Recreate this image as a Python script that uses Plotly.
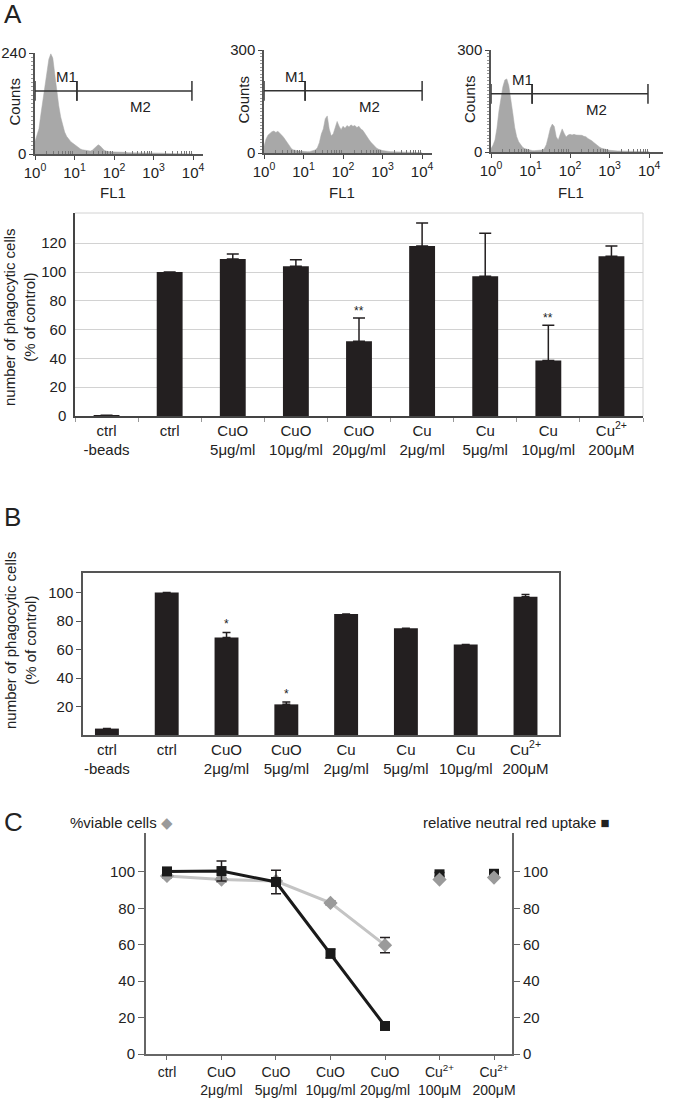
import math
import plotly.graph_objects as go

W, H = 676, 1098
FONT = "Liberation Sans, Arial, sans-serif"
INK = "#231f20"

# ---- flow cytometry histograms (FL1 in log10 units) ----
fl1_bins = [0.00, 0.05, 0.10, 0.15, 0.20, 0.25, 0.30, 0.35, 0.40, 0.45,
            0.50, 0.55, 0.60, 0.65, 0.70, 0.75, 0.80, 0.85, 0.90, 0.95,
            1.00, 1.05, 1.10, 1.15, 1.20, 1.25, 1.30, 1.35, 1.40, 1.45,
            1.50, 1.55, 1.60, 1.65, 1.70, 1.75, 1.80, 1.85, 1.90, 1.95,
            2.00, 2.05, 2.10, 2.15, 2.20, 2.25, 2.30, 2.35, 2.40, 2.45,
            2.50, 2.55, 2.60, 2.65, 2.70, 2.75, 2.80, 2.85, 2.90, 2.95,
            3.00, 3.20, 3.40, 3.60, 3.80, 4.00]
hist1_counts = [30, 45, 60, 95, 130, 165, 200, 225, 238, 228,
                190, 150, 115, 88, 66, 52, 42, 35, 30, 26,
                22, 18, 15, 12, 10, 9, 8, 7, 7, 9,
                13, 18, 22, 19, 13, 9, 7, 6, 6, 5,
                5, 5, 4, 4, 4, 4, 4, 3, 3, 3,
                3, 3, 3, 3, 3, 2, 2, 2, 2, 2,
                2, 2, 1, 1, 1, 0]
hist2_counts = [20, 40, 52, 58, 62, 64, 60, 63, 58, 52,
                45, 36, 26, 18, 12, 9, 7, 6, 5, 5,
                4, 4, 4, 4, 5, 6, 9, 15, 30, 55,
                70, 100, 108, 70, 50, 55, 75, 92, 78, 68,
                78, 72, 80, 76, 82, 78, 80, 74, 78, 70,
                66, 56, 48, 40, 32, 25, 19, 14, 11, 8,
                7, 4, 3, 2, 2, 1]
hist3_counts = [10, 20, 35, 70, 120, 160, 192, 212, 215, 195,
                160, 115, 72, 45, 30, 20, 14, 10, 8, 6,
                5, 4, 4, 4, 4, 5, 6, 10, 22, 45,
                70, 82, 75, 45, 35, 52, 68, 55, 44, 50,
                52, 50, 52, 50, 50, 48, 49, 46, 45, 40,
                37, 33, 28, 23, 18, 14, 11, 9, 7, 6,
                5, 3, 2, 2, 1, 1]
hist_ymax = [240, 300, 300]
gate_level = [150, 181, 171]
gate_m1 = [(0.0, 1.06), (0.0, 1.04), (0.0, 1.04)]
gate_m2 = [(1.06, 3.97), (1.04, 4.0), (1.04, 3.97)]

# ---- panel A ----
a_cats = ["ctrl<br>-beads", "ctrl", "CuO<br>5μg/ml", "CuO<br>10μg/ml", "CuO<br>20μg/ml",
          "Cu<br>2μg/ml", "Cu<br>5μg/ml", "Cu<br>10μg/ml", "Cu<sup>2+</sup><br>200μM"]
a_vals = [0.5, 100, 109, 104, 52, 118, 97, 38.5, 111]
a_err = [None, None, 3.5, 4.5, 16, 16, 30, 24.5, 7]
a_stars = ["", "", "", "", "**", "", "", "**", ""]

# ---- panel B ----
b_cats = ["ctrl<br>-beads", "ctrl", "CuO<br>2μg/ml", "CuO<br>5μg/ml",
          "Cu<br>2μg/ml", "Cu<br>5μg/ml", "Cu<br>10μg/ml", "Cu<sup>2+</sup><br>200μM"]
b_vals = [4.5, 100, 68.5, 21.5, 85, 75, 63.5, 97]
b_err = [None, None, 3.5, 1.6, None, None, None, 1.6]
b_stars = ["", "", "*", "*", "", "", "", ""]

# ---- panel C ----
c_cats = ["ctrl", "CuO<br>2μg/ml", "CuO<br>5μg/ml", "CuO<br>10μg/ml", "CuO<br>20μg/ml",
          "Cu<sup>2+</sup><br>100μM", "Cu<sup>2+</sup><br>200μM"]
c_uptake = [100.3, 100.5, 94.5, 55.2, 15.4, 98.7, 99.0]
c_uptake_err = [1.0, 5.5, 6.5, 2.5, 2.0, 1.0, 1.0]
c_viable = [97.8, 95.8, 95.0, 83.0, 59.8, 95.8, 96.9]
c_viable_err = [1.0, 1.2, 1.0, 1.0, 4.2, 1.0, 1.0]


def px(x):
    return x / W


def py(y):
    return 1 - y / H


fig = go.Figure()
font = dict(family=FONT, size=15, color="#222")
annotations = []


def note(x, y, text, **kw):
    d = dict(x=px(x), y=py(y), xref="paper", yref="paper", text=text, showarrow=False,
             xanchor="center", yanchor="middle", font=font)
    d.update(kw)
    annotations.append(d)


# histograms
hist_boxes = [(35, 203, 154, 53, 4.25), (264, 432, 153, 50, 4.25), (491, 663, 152, 50, 4.35)]
minor_log = [d + math.log10(k) for d in range(4) for k in range(2, 10)]
for i, counts in enumerate([hist1_counts, hist2_counts, hist3_counts]):
    n = "" if i == 0 else str(i + 1)
    xa, ya = "x" + n, "y" + n
    x0, x1, yb, yt, xr = hist_boxes[i]
    fig.add_trace(go.Scatter(x=fl1_bins, y=counts, xaxis=xa, yaxis=ya, mode="lines",
                             fill="tozeroy", fillcolor="#a8a8a8",
                             line=dict(color="#a8a8a8", width=0.5)))
    lvl = gate_level[i]
    for seg in (gate_m1[i], gate_m2[i]):
        fig.add_trace(go.Scatter(x=list(seg), y=[lvl, lvl], xaxis=xa, yaxis=ya,
                                 mode="lines+markers",
                                 line=dict(color="#333", width=1.5),
                                 marker=dict(symbol="line-ns", size=14,
                                             line=dict(color="#333", width=1.5))))
    fig.update_layout(**{
        ("xaxis" + n): dict(domain=[px(x0), px(x1)], anchor=ya, range=[0, xr],
                            tickvals=[0, 1, 2, 3, 4],
                            ticktext=["10<sup>0</sup>", "10<sup>1</sup>", "10<sup>2</sup>",
                                      "10<sup>3</sup>", "10<sup>4</sup>"],
                            ticks="outside", ticklen=4, showgrid=False, zeroline=False,
                            showline=True, linecolor="#555", linewidth=1.5,
                            tickfont=font, tickangle=0, automargin=False,
                            minor=dict(tickvals=minor_log, ticks="inside", ticklen=3,
                                       tickcolor="#777")),
        ("yaxis" + n): dict(domain=[py(yb), py(yt)], anchor=xa, range=[0, hist_ymax[i]],
                            tickvals=[0, hist_ymax[i]], ticks="outside", ticklen=4,
                            showgrid=False, zeroline=False, showline=True,
                            linecolor="#555", linewidth=1.5, tickfont=font,
                            automargin=False,
                            minor=dict(dtick=10, ticks="outside", ticklen=2,
                                       tickcolor="#999")),
    })
    annotations.append(dict(x=0.8, y=lvl, xref=xa, yref=ya, text="M1", showarrow=False,
                            yshift=14, font=font))
    annotations.append(dict(x=2.68, y=lvl, xref=xa, yref=ya, text="M2", showarrow=False,
                            yshift=-16, font=font))
    note(x0 - 21, (yb + yt) / 2 - 2, "Counts", textangle=-90)
    note((x0 + x1) / 2 - 6, 193, "FL1")

# panel A bar chart
fig.add_trace(go.Bar(x=a_cats, y=a_vals, xaxis="x4", yaxis="y4", width=0.41,
                     marker=dict(color=INK, line=dict(width=0)),
                     error_y=dict(type="data", symmetric=False, array=a_err,
                                  arrayminus=[0] * len(a_err), color=INK,
                                  thickness=1.5, width=6)))
for i, s in enumerate(a_stars):
    if s:
        annotations.append(dict(x=i, y=a_vals[i] + a_err[i], xref="x4", yref="y4", text=s,
                                showarrow=False, yanchor="bottom", yshift=-2,
                                font=dict(family=FONT, size=12, color="#222")))
fig.update_layout(
    xaxis4=dict(domain=[px(75), px(643)], anchor="y4", type="category", range=[-0.5, 8.5],
                showline=True, linecolor="#444", linewidth=1.5, ticks="outside",
                tickson="boundaries", ticklen=4, tickcolor="#999", tickfont=font,
                tickangle=0, automargin=False),
    yaxis4=dict(domain=[py(416), py(213)], anchor="x4", range=[0, 141],
                tickvals=[0, 20, 40, 60, 80, 100, 120],
                showline=True, linecolor="#444", linewidth=1.5, showgrid=True,
                gridcolor="#d2d2d2", gridwidth=1, zeroline=False, tickfont=font,
                ticklabelstandoff=4, automargin=False),
)
fig.add_shape(type="line", xref="x4 domain", yref="y4 domain", x0=0, x1=1, y0=1, y1=1,
              line=dict(color="#d2d2d2", width=1))
fig.add_shape(type="line", xref="x4 domain", yref="y4 domain", x0=1, x1=1, y0=0, y1=1,
              line=dict(color="#d2d2d2", width=1))

# panel B bar chart
fig.add_trace(go.Bar(x=b_cats, y=b_vals, xaxis="x5", yaxis="y5", width=0.4,
                     marker=dict(color=INK, line=dict(width=0)),
                     error_y=dict(type="data", symmetric=False, array=b_err,
                                  arrayminus=[0] * len(b_err), color=INK,
                                  thickness=1.5, width=4)))
for i, s in enumerate(b_stars):
    if s:
        annotations.append(dict(x=i, y=b_vals[i] + b_err[i], xref="x5", yref="y5", text=s,
                                showarrow=False, yanchor="bottom", yshift=-1,
                                font=dict(family=FONT, size=12, color="#222")))
fig.update_layout(
    xaxis5=dict(domain=[px(83), px(559)], anchor="y5", type="category", range=[-0.4, 7.56],
                showline=True, linecolor="#555", linewidth=1.5, mirror=True, ticks="",
                tickfont=font, tickangle=0, automargin=False),
    yaxis5=dict(domain=[py(735), py(573)], anchor="x5", range=[0, 113.7],
                tickvals=[20, 40, 60, 80, 100], showline=True, linecolor="#555",
                linewidth=1.5, mirror=True, ticks="outside", ticklen=5, tickcolor="#555",
                showgrid=False, zeroline=False, tickfont=font, automargin=False),
)

# panel C line chart
err_style = dict(type="data", color=INK, thickness=1.5, width=5)
fig.add_trace(go.Scatter(x=c_cats[:5], y=c_viable[:5], xaxis="x6", yaxis="y6",
                         mode="lines+markers", line=dict(color="#c4c4c4", width=3),
                         marker=dict(symbol="diamond", size=11, color="#9a9a9a"),
                         error_y=dict(array=c_viable_err[:5], **err_style)))
fig.add_trace(go.Scatter(x=c_cats[:5], y=c_uptake[:5], xaxis="x6", yaxis="y6",
                         mode="lines+markers", line=dict(color="#1a1a1a", width=3),
                         marker=dict(symbol="square", size=10, color="#1a1a1a"),
                         error_y=dict(array=c_uptake_err[:5], **err_style)))
fig.add_trace(go.Scatter(x=c_cats[5:], y=c_uptake[5:], xaxis="x6", yaxis="y6",
                         mode="markers",
                         marker=dict(symbol="square", size=10, color="#1a1a1a"),
                         error_y=dict(array=c_uptake_err[5:], **err_style)))
fig.add_trace(go.Scatter(x=c_cats[5:], y=c_viable[5:], xaxis="x6", yaxis="y6",
                         mode="markers",
                         marker=dict(symbol="diamond", size=11, color="#9a9a9a")))
fig.add_trace(go.Scatter(x=c_cats, y=c_uptake, xaxis="x6", yaxis="y7", mode="markers",
                         marker=dict(size=1, opacity=0), hoverinfo="skip"))
c_ticks = [0, 20, 40, 60, 80, 100]
fig.update_layout(
    xaxis6=dict(domain=[px(146), px(512)], anchor="y6", type="category",
                range=[-0.385, 6.33], showline=True, linecolor="#666", linewidth=2,
                ticks="outside", ticklen=4, tickcolor="#666",
                tickfont=dict(family=FONT, size=14, color="#222"),
                ticklabelstandoff=0, tickangle=0, automargin=False),
    yaxis6=dict(domain=[py(1054), py(833)], anchor="x6", range=[0, 121.4], tickvals=c_ticks,
                showline=True, linecolor="#666", linewidth=2, ticks="outside", ticklen=6,
                tickcolor="#666", showgrid=False, zeroline=False, tickfont=font,
                automargin=False),
    yaxis7=dict(overlaying="y6", anchor="x6", side="right", range=[0, 121.4],
                tickvals=c_ticks, showline=True, linecolor="#666", linewidth=2,
                ticks="outside", ticklen=6, tickcolor="#666", showgrid=False,
                zeroline=False, tickfont=font, automargin=False),
)

# panel letters, axis titles, legend labels
big = dict(family=FONT, size=26, color="#222")
for letter, ly in (("A", 14), ("B", 517), ("C", 822)):
    note(2, ly, letter, xanchor="left", font=big)
ytitle = "number of phagocytic cells<br>(% of control)"
note(19, 317, ytitle, textangle=-90)
note(20, 640, ytitle, textangle=-90)
note(68, 822, "%viable cells <span style='color:#9a9a9a'>◆</span>", xanchor="left")
note(612, 822, "relative neutral red uptake ■", xanchor="right")

fig.update_layout(width=W, height=H, margin=dict(l=0, r=0, t=0, b=0),
                  paper_bgcolor="white", plot_bgcolor="white", showlegend=False,
                  font=font, annotations=annotations)

# drop the page's default body margin so the figure sits at the window's corner
fig.write_html("out.html", config={"displayModeBar": False},
               post_script="document.body.style.margin = '0';")
